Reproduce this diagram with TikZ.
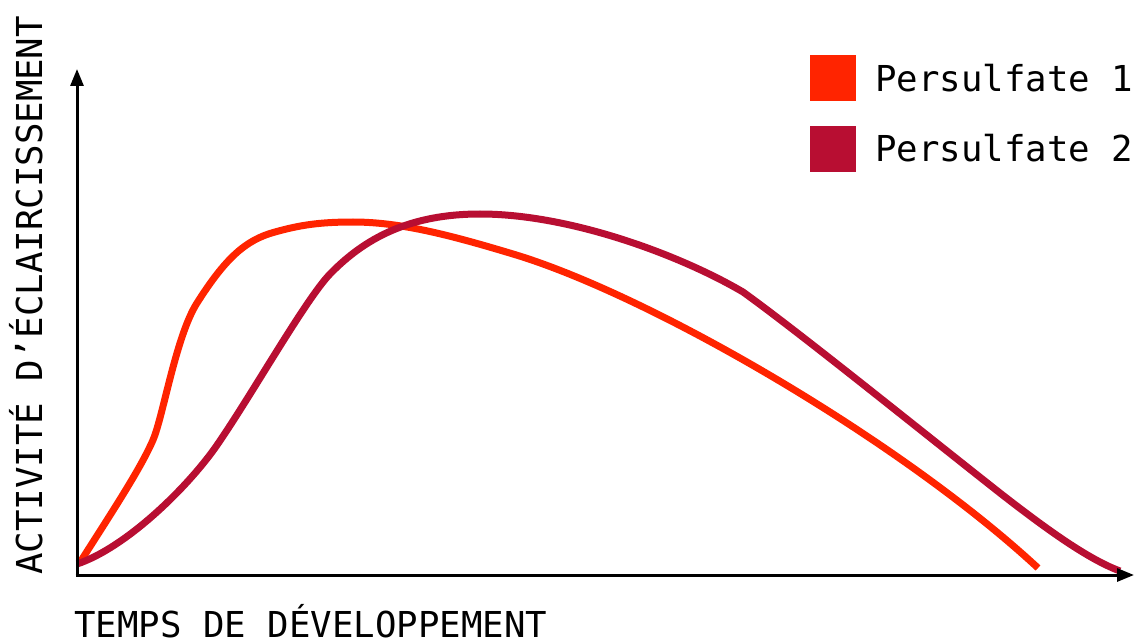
\documentclass[tikz,border=0pt]{standalone}
\usepackage{fontspec}
\setmainfont{DejaVu Sans Mono}
\usetikzlibrary{arrows.meta}
\definecolor{pOne}{RGB}{255,36,0}
\definecolor{pTwo}{RGB}{184,14,50}
\tikzset{
  axis/.style={line width=3pt, -{Triangle[length=17pt,width=13pt]}},
  curveOne/.style={line width=7pt, pOne, line cap=butt, line join=round},
  curveTwo/.style={line width=7pt, pTwo, line cap=butt, line join=round},
  swatch/.style={minimum size=46pt, inner sep=0pt, outer sep=0pt, draw=none},
  lbl/.style={font=\fontsize{35.7pt}{40pt}\selectfont, inner sep=0pt, text=black},
}
\begin{document}
\begin{tikzpicture}[x=1pt,y=-1pt]
\useasboundingbox (0,0) rectangle (1134,644);
\fill[white] (0,0) rectangle (1134,644);
% axes
\coordinate (O) at (77,575);
\coordinate (Ytop) at (77,69);
\coordinate (Xend) at (1134,575);
% Persulfate 1
\draw[curveOne] (79,564) .. controls (110,515) and (140,470) .. (153,440)
  .. controls (163,417) and (176,336) .. (197,303)
  .. controls (225,259) and (245,240) .. (275,232)
  .. controls (300,225) and (320,222) .. (353,222)
  .. controls (400,222) and (450,235) .. (513,254)
  .. controls (650,295) and (900,440) .. (1038,568);
% Persulfate 2
\draw[curveTwo] (77,564) .. controls (125,548) and (185,490) .. (215,448)
  .. controls (250,398) and (305,300) .. (330,274)
  .. controls (365,238) and (410,214) .. (480,214)
  .. controls (570,214) and (680,255) .. (743,292)
  .. controls (800,333) and (920,430) .. (1000,493)
  .. controls (1050,532) and (1090,560) .. (1120,571);
\draw[axis] (O) -- (Ytop);
\draw[axis] ([xshift=-1.5pt]O) -- (Xend);
% labels
\node[lbl, anchor=base west] (xlab) at (74,637) {TEMPS DE DÉVELOPPEMENT};
\node[lbl, anchor=base west, rotate=90] (ylab) at (42,575) {ACTIVITÉ D’ÉCLAIRCISSEMENT};
% legend
\node[swatch, fill=pOne, anchor=north west] (s1) at (810,55) {};
\node[swatch, fill=pTwo, anchor=north west] (s2) at (810,126) {};
\node[lbl, anchor=base west] (t1) at (875,92) {Persulfate 1};
\node[lbl, anchor=base west] (t2) at (875,162) {Persulfate 2};
\end{tikzpicture}
\end{document}
